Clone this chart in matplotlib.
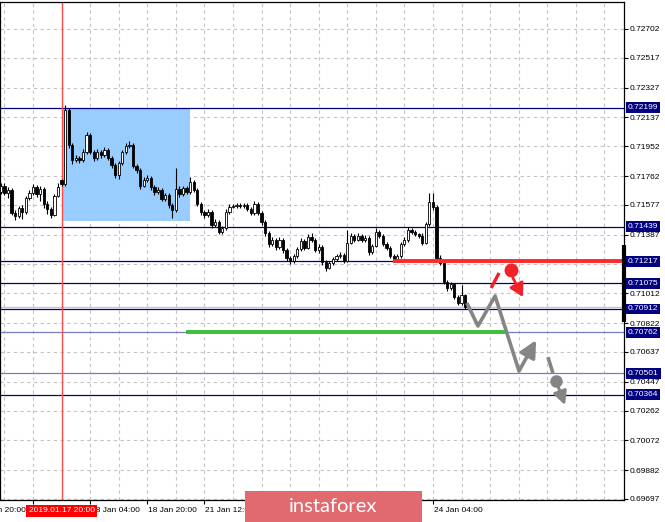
import numpy as np
import matplotlib
matplotlib.use('Agg')
import matplotlib.pyplot as plt
from matplotlib.patches import Rectangle
import matplotlib.transforms as mtransforms

# ---------------- data (hourly bars, index 0 = 17 Jan 12:00) ----------------
first_bar = -9
opens = [0.71660, 0.71699, 0.71654, 0.71673, 0.71526, 0.71507, 0.71558, 0.71532, 0.71622,
         0.71654, 0.71692, 0.71647, 0.71679, 0.71583, 0.71551, 0.71513, 0.71635, 0.71737, 0.71711,
         0.72185, 0.71961, 0.71865, 0.71878, 0.71865, 0.71916, 0.72025, 0.71916, 0.71878, 0.71916,
         0.71897, 0.71929, 0.71878, 0.71833, 0.71769, 0.71846, 0.71916, 0.71955, 0.71961, 0.71827,
         0.71801, 0.71699, 0.71737, 0.71750, 0.71692, 0.71660, 0.71673, 0.71615, 0.71641, 0.71577,
         0.71545, 0.71679, 0.71647, 0.71686, 0.71660, 0.71724, 0.71673, 0.71583, 0.71532, 0.71513,
         0.71532, 0.71449, 0.71468, 0.71404, 0.71430, 0.71532, 0.71564, 0.71571, 0.71577, 0.71571,
         0.71577, 0.71551, 0.71526, 0.71583, 0.71526, 0.71468, 0.71398, 0.71327, 0.71353, 0.71308,
         0.71353, 0.71289, 0.71238, 0.71219, 0.71251, 0.71295, 0.71347, 0.71302, 0.71372, 0.71353,
         0.71289, 0.71308, 0.71212, 0.71174, 0.71206, 0.71231, 0.71251, 0.71257, 0.71219, 0.71334,
         0.71379, 0.71353, 0.71379, 0.71353, 0.71366, 0.71276, 0.71315, 0.71404, 0.71379, 0.71327,
         0.71302, 0.71251, 0.71225, 0.71251, 0.71327, 0.71353, 0.71417, 0.71404, 0.71391, 0.71379,
         0.71334, 0.71455, 0.71596, 0.71564, 0.71238, 0.71206, 0.71084, 0.71046, 0.71071, 0.70988,
         0.70950, 0.71001]
closes = [0.71699, 0.71654, 0.71673, 0.71526, 0.71507, 0.71558, 0.71532, 0.71622, 0.71654,
          0.71692, 0.71647, 0.71679, 0.71583, 0.71551, 0.71513, 0.71635, 0.71692, 0.71711, 0.72185,
          0.71961, 0.71865, 0.71878, 0.71865, 0.71916, 0.72025, 0.71916, 0.71878, 0.71916, 0.71897,
          0.71929, 0.71878, 0.71833, 0.71769, 0.71846, 0.71916, 0.71955, 0.71961, 0.71827, 0.71801,
          0.71699, 0.71737, 0.71750, 0.71692, 0.71660, 0.71673, 0.71615, 0.71641, 0.71577, 0.71545,
          0.71679, 0.71647, 0.71686, 0.71660, 0.71724, 0.71673, 0.71583, 0.71532, 0.71513, 0.71532,
          0.71449, 0.71468, 0.71404, 0.71430, 0.71532, 0.71564, 0.71571, 0.71577, 0.71571, 0.71577,
          0.71551, 0.71526, 0.71583, 0.71526, 0.71468, 0.71398, 0.71327, 0.71353, 0.71308, 0.71353,
          0.71289, 0.71238, 0.71219, 0.71251, 0.71295, 0.71347, 0.71302, 0.71372, 0.71353, 0.71289,
          0.71308, 0.71212, 0.71174, 0.71206, 0.71231, 0.71251, 0.71257, 0.71219, 0.71334, 0.71379,
          0.71353, 0.71379, 0.71353, 0.71366, 0.71276, 0.71315, 0.71404, 0.71379, 0.71327, 0.71302,
          0.71251, 0.71225, 0.71251, 0.71327, 0.71353, 0.71417, 0.71404, 0.71391, 0.71379, 0.71334,
          0.71455, 0.71596, 0.71564, 0.71238, 0.71206, 0.71084, 0.71046, 0.71071, 0.70988, 0.70950,
          0.71001, 0.70924]
highs = [0.71720, 0.71715, 0.71690, 0.71685, 0.71545, 0.71570, 0.71575, 0.71635, 0.71670,
         0.71710, 0.71705, 0.71700, 0.71690, 0.71600, 0.71565, 0.71650, 0.71715, 0.71745, 0.72218,
         0.72199, 0.71975, 0.71895, 0.71890, 0.71935, 0.72045, 0.72040, 0.71930, 0.71935, 0.71930,
         0.71945, 0.71940, 0.71890, 0.71845, 0.71860, 0.71930, 0.71975, 0.71985, 0.71975, 0.71840,
         0.71815, 0.71755, 0.71770, 0.71760, 0.71705, 0.71690, 0.71685, 0.71655, 0.71655, 0.71590,
         0.71814, 0.71695, 0.71700, 0.71700, 0.71756, 0.71735, 0.71685, 0.71595, 0.71545, 0.71550,
         0.71545, 0.71485, 0.71480, 0.71445, 0.71550, 0.71580, 0.71585, 0.71590, 0.71590, 0.71590,
         0.71590, 0.71565, 0.71600, 0.71595, 0.71540, 0.71480, 0.71410, 0.71370, 0.71365, 0.71370,
         0.71365, 0.71300, 0.71250, 0.71265, 0.71310, 0.71365, 0.71360, 0.71390, 0.71395, 0.71365,
         0.71325, 0.71320, 0.71225, 0.71220, 0.71245, 0.71265, 0.71275, 0.71270, 0.71417, 0.71395,
         0.71390, 0.71395, 0.71390, 0.71385, 0.71380, 0.71330, 0.71430, 0.71420, 0.71390, 0.71340,
         0.71315, 0.71265, 0.71265, 0.71340, 0.71370, 0.71435, 0.71430, 0.71420, 0.71400, 0.71395,
         0.71470, 0.71654, 0.71654, 0.71575, 0.71260, 0.71215, 0.71095, 0.71085, 0.71080, 0.71000,
         0.71065, 0.71010]
lows = [0.71645, 0.71640, 0.71620, 0.71510, 0.71480, 0.71495, 0.71490, 0.71520, 0.71610,
        0.71640, 0.71630, 0.71600, 0.71560, 0.71520, 0.71495, 0.71505, 0.71625, 0.71700, 0.71700,
        0.71940, 0.71840, 0.71850, 0.71845, 0.71850, 0.71900, 0.71900, 0.71860, 0.71865, 0.71880,
        0.71885, 0.71865, 0.71815, 0.71750, 0.71740, 0.71835, 0.71905, 0.71940, 0.71815, 0.71780,
        0.71680, 0.71690, 0.71725, 0.71670, 0.71640, 0.71645, 0.71600, 0.71600, 0.71560, 0.71494,
        0.71530, 0.71630, 0.71635, 0.71645, 0.71650, 0.71660, 0.71570, 0.71515, 0.71495, 0.71500,
        0.71430, 0.71435, 0.71390, 0.71390, 0.71420, 0.71520, 0.71555, 0.71560, 0.71560, 0.71560,
        0.71540, 0.71510, 0.71515, 0.71510, 0.71450, 0.71380, 0.71310, 0.71315, 0.71290, 0.71295,
        0.71270, 0.71220, 0.71200, 0.71205, 0.71240, 0.71285, 0.71290, 0.71295, 0.71340, 0.71275,
        0.71270, 0.71195, 0.71155, 0.71165, 0.71190, 0.71220, 0.71240, 0.71205, 0.71210, 0.71325,
        0.71340, 0.71345, 0.71340, 0.71340, 0.71260, 0.71265, 0.71305, 0.71365, 0.71315, 0.71290,
        0.71235, 0.71210, 0.71210, 0.71240, 0.71315, 0.71340, 0.71390, 0.71380, 0.71365, 0.71320,
        0.71325, 0.71445, 0.71545, 0.71225, 0.71190, 0.71070, 0.71030, 0.71035, 0.70975, 0.70935,
        0.70940, 0.70910]

# horizontal levels
level_prices = [0.72199, 0.71439, 0.71217, 0.71075, 0.70912, 0.70762, 0.70501, 0.70364]
light_levels = [0.70762, 0.70501]
resistance_level = 0.71217
support_level = 0.70762
bid_price = 0.70924

# right price-axis ticks
y_ticks = [0.72702, 0.72517, 0.72327, 0.72137, 0.71952, 0.71762, 0.71577, 0.71387, 0.71202,
           0.71012, 0.70822, 0.70637, 0.70447, 0.70262, 0.70072, 0.69882, 0.69697]

# time axis ticks (bar index) and the labels that are visible in the chart
x_tick_bars = [0, 16, 32, 48, 64, 80, 96, 112]
x_label_bars = [-16, 16, 32, 48, 112]
x_labels = ['16 Jan 20:00', '18 Jan 04:00', '18 Jan 20:00', '21 Jan 12:00', '24 Jan 04:00']
marker_bar = 8
marker_label = '2019.01.17 20:00'

# highlighted box (range after the marker)
box_bar_start, box_bar_end = 8, 44.0
box_low, box_high = 0.71475, 0.72199

# level segments
red_seg_start = 100.8
green_seg = (42.8, 132.2)

# forecast drawings (bar index, price)
red_stroke_x = [128.3, 130.5]
red_stroke_y = [0.71046, 0.71142]
red_dot = (133.9, 0.71161)
red_arrow_from = (134.4, 0.71110)
red_arrow_to = (137.2, 0.70988)
gray_path_x = [121.5, 124.6, 129.4, 136.1]
gray_path_y = [0.70950, 0.70803, 0.70995, 0.70515]
gray_arrow_to = (140.9, 0.70713)
gray_stroke_x = [144.2, 145.6]
gray_stroke_y = [0.70604, 0.70502]
gray_dot = (146.5, 0.70451)
gray_arrow2_from = (147.0, 0.70419)
gray_arrow2_to = (149.0, 0.70297)
side_bar_range = (0.71321, 0.70828)

# ---------------- figure ----------------
W, H = 665, 522
fig = plt.figure(figsize=(W / 100, H / 100), dpi=100)
fig.patch.set_facecolor('white')
ax = fig.add_axes([0, 22 / H, 624 / W, 498 / H])
ax.set_facecolor('white')
FONT = ['Liberation Sans', 'DejaVu Sans']
FS = 6.0

# ticks and grid
ax.set_xticks(x_tick_bars)
ax.set_xticklabels([])
ax.set_xticks(np.arange(-8, 168, 8), minor=True)
ax.xaxis.remove_overlapping_locs = False
ax.tick_params(axis='x', which='major', length=3, direction='out', width=0.8)
ax.tick_params(axis='x', which='minor', length=0)
ax.grid(axis='x', which='minor', linestyle=(0, (3, 3)), color='#c4c4c4', linewidth=0.8)
ax.yaxis.tick_right()
ax.set_yticks(y_ticks)
ax.set_yticklabels([f'{v:.5f}' for v in y_ticks], fontsize=FS, family=FONT)
ax.tick_params(axis='y', length=3, width=0.8, pad=1)
ax.grid(axis='y', which='major', linestyle=(0, (3, 3)), color='#c4c4c4', linewidth=0.8)
ax.set_axisbelow(True)
for s in ax.spines.values():
    s.set_color('black')
    s.set_linewidth(0.9)

# blue rectangle
ax.add_patch(Rectangle((box_bar_start, box_low), box_bar_end - box_bar_start, box_high - box_low,
                       facecolor='#99ccff', edgecolor='none', zorder=1))

# levels
for p in level_prices:
    col = '#7b7bc4' if p in light_levels else '#000080'
    ax.axhline(p, color=col, linewidth=0.9, zorder=2)
ax.axhline(bid_price, color='#c8c8c8', linewidth=1.0, zorder=1.5)
ax.axvline(marker_bar, color='#ff4a4a', linewidth=1.0, zorder=2)

# candles
bars = np.arange(first_bar, first_bar + len(closes))
o = np.array(opens); c = np.array(closes); hi = np.array(highs); lo = np.array(lows)
ax.vlines(bars, lo, hi, color='black', linewidth=0.8, zorder=3)
up = c >= o
body_h = np.maximum(np.abs(c - o), 0.00003)
ax.bar(bars[up], body_h[up], bottom=np.minimum(o, c)[up], width=0.62,
       color='white', edgecolor='black', linewidth=0.6, zorder=4)
ax.bar(bars[~up], body_h[~up], bottom=np.minimum(o, c)[~up], width=0.62,
       color='black', edgecolor='black', linewidth=0.6, zorder=4)

XMAX = 165.5
# thick level segments
ax.hlines(resistance_level, red_seg_start, XMAX, color='#ff2a2a', linewidth=2.8, zorder=5)
ax.hlines(support_level, green_seg[0], green_seg[1], color='#3cc03c', linewidth=2.8, zorder=5)

# forecast drawings
gray = '#858585'
red = '#f0222a'
ax.plot(gray_path_x, gray_path_y, color=gray, linewidth=2.6, zorder=6, solid_capstyle='butt')
ax.annotate('', xy=gray_arrow_to, xytext=(gray_path_x[-1], gray_path_y[-1]),
            arrowprops=dict(arrowstyle='-|>,head_length=1.0,head_width=0.5', color=gray,
                            lw=2.6, shrinkA=0, shrinkB=0), zorder=6)
ax.plot(gray_stroke_x, gray_stroke_y, color=gray, linewidth=2.6, zorder=6, solid_capstyle='butt')
ax.plot([gray_dot[0]], [gray_dot[1]], 'o', color=gray, markersize=8, zorder=6)
ax.annotate('', xy=gray_arrow2_to, xytext=gray_arrow2_from,
            arrowprops=dict(arrowstyle='-|>,head_length=0.8,head_width=0.4', color=gray,
                            lw=2.2, shrinkA=0, shrinkB=0), zorder=6)
ax.plot(red_stroke_x, red_stroke_y, color=red, linewidth=2.4, zorder=6, solid_capstyle='butt')
ax.plot([red_dot[0]], [red_dot[1]], 'o', color=red, markersize=9, zorder=6)
ax.annotate('', xy=red_arrow_to, xytext=red_arrow_from,
            arrowprops=dict(arrowstyle='-|>,head_length=0.8,head_width=0.45', color=red,
                            lw=2.0, shrinkA=0, shrinkB=0), zorder=6)

# limits (set after ticks so they are not expanded)
ax.set_xlim(-9.24, XMAX)
ax.set_ylim(0.696906, 0.728746)

# right-side black bar
yblend = mtransforms.blended_transform_factory(ax.transAxes, ax.transData)
ax.plot([1.0, 1.0], list(side_bar_range), transform=yblend, color='black', linewidth=3,
        clip_on=False, solid_capstyle='butt', zorder=7)

# highlighted price labels
for p in level_prices:
    ax.text(1.0 + 4 / 624, p, f'{p:.5f}', transform=yblend, color='white', fontsize=FS,
            family=FONT, va='center', ha='left', clip_on=False, zorder=8,
            bbox=dict(boxstyle='square,pad=0.22', facecolor='#000080', edgecolor='none'))

# time labels
xblend = mtransforms.blended_transform_factory(ax.transData, fig.transFigure)
label_y = (H - 511) / H
for b, lab in zip(x_label_bars, x_labels):
    ax.text(b + 0.3, label_y, lab, transform=xblend, fontsize=FS, family=FONT,
            ha='left', va='center', clip_on=False, zorder=3)
ax.text(marker_bar, label_y, marker_label, transform=xblend, fontsize=FS, family=FONT,
        color='white', ha='center', va='center', clip_on=False, zorder=9,
        bbox=dict(boxstyle='square,pad=0.35', facecolor='#ff0000', edgecolor='none'))

# watermark
fig.patches.append(Rectangle((245 / W, 0), (422 - 245) / W, 31 / H, transform=fig.transFigure,
                             facecolor='#e06a6e', edgecolor='none', zorder=10))
fig.text(333 / W, (H - 506) / H, 'instaforex', color='white', fontsize=14.5,
         family=['Lato', 'DejaVu Sans'], ha='center', va='center', zorder=11)

fig.savefig('out.png', dpi=100)
